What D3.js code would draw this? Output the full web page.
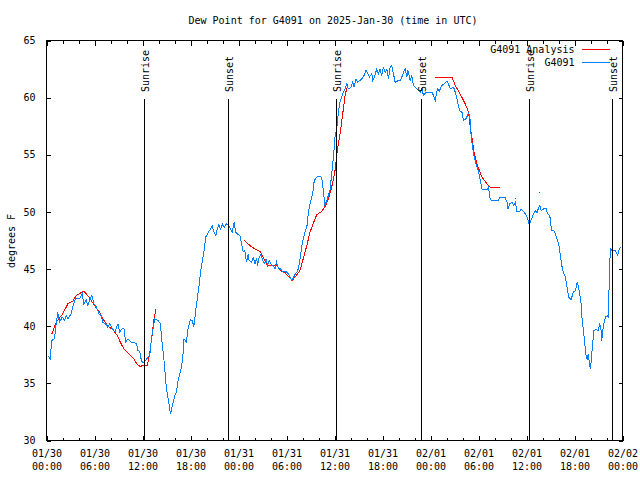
<!DOCTYPE html>
<html>
<head>
<meta charset="utf-8">
<script src="https://cdn.jsdelivr.net/npm/d3@7"></script>
<style>
  html, body { margin: 0; padding: 0; background: #fff; }
  svg { display: block; }
  text { font-family: "DejaVu Sans Mono", "Liberation Mono", monospace; font-size: 10px; fill: #000; }
</style>
</head>
<body>
<svg id="chart" width="640" height="480"></svg>
<script>
// ---------- data (hours since 2025-01-30 00:00 UTC) ----------
const titleText = "Dew Point for G4091 on 2025-Jan-30 (time in UTC)";
const yLabel = "degrees F";
const seriesNames = ["G4091 Analysis", "G4091"];
const seriesColors = ["#ff0000", "#0080ff"];

const blueHours = [0.16,0.46,0.66,1.0,1.21,1.41,1.63,1.97,2.25,2.47,2.67,3.09,3.29,3.63,4.13,4.47,4.67,4.97,5.17,5.38,5.67,5.92,6.22,6.55,6.85,7.05,7.39,7.68,7.89,8.23,8.55,8.93,9.14,9.48,9.68,9.89,10.18,10.61,11.23,11.43,11.65,11.86,12.06,12.4,12.68,12.9,13.11,13.52,13.94,14.24,14.44,14.65,14.78,14.99,15.31,15.49,15.69,16.03,16.24,16.44,16.87,17.07,17.19,17.49,17.69,17.99,18.24,18.41,18.62,18.75,18.82,19.07,19.28,19.5,19.7,19.91,20.2,20.41,20.7,20.95,21.16,21.32,21.54,21.75,22.0,22.2,22.5,22.79,23.0,23.2,23.45,23.67,23.88,24.17,24.38,24.58,24.79,25.0,25.21,25.33,25.63,25.83,26.08,26.26,26.38,26.58,26.8,27.01,27.3,27.42,27.64,27.84,28.14,28.34,28.55,28.76,28.96,29.26,29.59,29.93,30.22,30.43,30.64,30.84,31.05,31.27,31.47,31.59,31.77,31.89,32.09,32.31,32.6,32.72,32.93,33.27,33.47,33.77,34.06,34.4,34.6,34.81,35.1,35.44,35.72,35.94,36.06,36.28,36.48,36.69,36.9,37.1,37.31,37.53,37.73,38.03,38.28,38.44,38.69,38.86,39.19,39.41,39.69,39.94,40.16,40.36,40.66,40.78,40.99,41.28,41.49,41.7,41.91,42.11,42.32,42.54,42.74,42.95,43.16,43.37,43.58,43.99,44.2,44.41,44.62,44.83,45.04,45.17,45.46,45.67,45.87,46.29,46.71,46.92,47.12,47.46,48.17,48.37,48.59,48.87,49.12,49.42,49.71,50.05,50.25,50.38,50.55,50.88,51.09,51.3,51.63,51.93,52.13,52.43,52.63,52.76,52.97,53.09,53.31,53.47,53.68,54.01,54.22,54.43,55.06,55.26,55.39,55.6,56.51,56.64,57.35,57.56,57.69,57.89,58.19,58.39,58.6,58.82,59.1,59.32,59.57,59.85,60.07,60.32,60.48,60.73,60.89,61.11,61.32,61.52,61.65,61.86,62.15,62.45,62.65,62.86,62.99,63.11,63.4,63.61,63.82,64.03,64.15,64.45,64.65,64.86,65.08,65.28,65.58,65.83,66.12,66.33,66.45,66.65,66.83,66.96,67.16,67.28,67.41,67.58,67.71,67.87,68.0,68.16,68.28,68.41,68.71,68.96,69.16,69.29,69.41,69.54,69.66,69.87,70.09,70.21,70.29,70.37,70.5,70.71,71.12,71.41,71.53,71.75];
const blueValues = [37.44,37.15,38.75,38.9,40.2,41.2,40.35,40.8,40.5,40.9,40.65,41.1,41.7,42.4,42.4,42.84,41.96,42.3,41.8,42.25,42.7,41.96,41.7,41.1,40.9,40.35,40.2,39.9,40.2,39.8,39.5,40.2,39.5,39.8,39.8,38.6,38.9,38.6,38.5,37.9,37.8,37.0,36.8,37.0,37.3,37.4,38.9,40.65,40.5,40.2,38.6,37.3,36.3,34.5,33.2,32.3,32.9,33.9,34.2,35.25,36.4,37.6,38.9,38.6,39.8,40.55,40.5,39.9,41.1,41.96,42.25,43.56,44.9,45.75,46.6,47.8,48.2,48.4,48.8,48.2,47.94,48.4,48.9,48.5,48.9,48.65,48.96,48.8,48.5,48.2,49.1,48.2,48.05,47.94,47.2,46.5,46.6,45.6,46.3,45.75,45.6,46.0,45.46,46.0,45.3,46.0,46.3,45.75,45.46,45.9,45.3,45.75,45.3,45.3,45.0,45.6,45.1,45.0,44.7,44.8,44.6,44.3,44.0,44.2,44.5,44.7,45.0,45.46,46.2,46.9,47.65,48.2,48.9,49.84,50.7,51.6,52.75,53.04,53.1,53.04,51.9,50.56,51.15,51.9,53.8,55.4,56.55,57.27,58.73,59.6,60.04,60.48,60.77,61.2,60.77,60.9,61.35,60.9,61.65,61.35,61.5,61.65,61.94,62.4,62.1,61.8,62.1,61.5,61.8,62.5,62.1,62.5,61.94,62.67,62.2,62.5,61.65,62.67,62.8,62.1,61.35,61.5,61.5,61.8,62.2,62.5,61.8,62.4,61.5,61.9,61.06,60.77,60.48,60.77,60.2,60.48,60.48,60.2,59.75,60.77,60.6,61.06,61.2,61.44,61.2,60.92,60.77,60.92,60.48,59.9,58.88,58.73,58.0,58.15,58.44,58.73,58.0,56.55,55.4,54.8,54.2,53.5,52.75,52.0,51.94,52.17,51.3,51.0,51.0,51.23,51.23,50.85,50.27,50.7,50.85,50.6,50.85,50.0,50.0,50.27,50.1,49.84,49.56,48.96,49.1,49.56,49.84,50.1,49.95,50.4,50.56,50.1,50.27,50.27,49.84,49.7,49.4,48.4,48.4,48.1,47.65,47.2,46.6,45.17,44.6,44.3,43.4,42.55,42.3,42.98,43.1,43.86,43.6,42.84,41.96,40.5,39.34,38.46,37.6,37.06,37.6,36.7,36.27,37.6,38.46,39.6,39.75,39.6,40.2,39.9,38.75,39.6,40.2,40.8,40.9,40.8,42.25,45.17,46.77,46.6,46.6,46.2,46.6,46.9];

// null marks a gap in the analysis series
const redHours = [0.66,1.21,2.04,2.67,3.29,3.72,4.67,5.3,6.01,6.64,7.18,7.68,8.3,8.85,9.23,9.68,10.18,10.81,11.31,11.65,12.27,12.61,12.9,13.19,13.44,13.69,14.0,
  24.67,25.42,26.05,26.67,27.09,27.59,28.76,29.39,29.8,30.52,30.72,31.18,31.68,32.09,32.52,32.93,33.35,33.77,34.4,34.85,35.22,35.65,36.06,36.35,36.69,37.03,37.35,37.69,38.0,
  48.59,50.68,51.09,51.72,52.34,52.76,52.97,53.18,53.47,53.88,54.43,55.06,55.56,56.31,56.72,57.0,
  58.6,58.7,61.65,61.8];
const redValues = [39.3,40.35,41.1,41.96,42.2,42.7,43.07,42.55,41.8,41.25,40.5,40.0,39.7,39.2,38.6,38.0,37.65,37.24,36.7,36.5,36.55,36.6,37.6,39.2,40.65,41.5,null,
  47.56,47.06,46.77,46.56,46.04,45.3,45.3,44.8,44.7,44.15,44.0,44.4,44.88,45.9,47.0,48.2,49.0,49.75,50.05,50.5,51.1,52.17,53.6,55.4,56.8,58.6,60.3,61.2,null,
  61.73,61.8,61.06,60.3,59.46,58.73,57.4,56.55,55.1,54.06,53.04,52.46,52.1,52.17,52.17,null,
  51.15,null,51.73,null];

const sunLabels = ["Sunrise","Sunset","Sunrise","Sunset","Sunrise","Sunset"];
const sunHours = [12.18,22.75,36.22,46.79,60.27,70.66];

const yTicks = [30,35,40,45,50,55,60,65];

// ---------- setup ----------
const start = Date.UTC(2025, 0, 30);
const toDate = h => new Date(start + h * 3600e3);
const svg = d3.select("#chart");

const x = d3.scaleUtc()
  .domain([new Date(Date.UTC(2025,0,30)), new Date(Date.UTC(2025,1,2))])
  .range([46.5, 622.5]);
const y = d3.scaleLinear().domain([30, 65]).range([440.5, 40.5]);

// title
svg.append("text").attr("x", 333).attr("y", 23.5).attr("text-anchor", "middle").text(titleText);

// y label
svg.append("text").attr("transform", "translate(15,241) rotate(-90)")
  .attr("text-anchor", "middle").text(yLabel);

// ---------- axes ----------
const majorT = d3.utcHour.every(6).range(x.domain()[0], new Date(+x.domain()[1] + 1));
const minorT = d3.utcHour.every(2).range(x.domain()[0], new Date(+x.domain()[1] + 1));

function styleAxis(g) {
  g.select(".domain").remove();
  g.selectAll("line").attr("stroke", "#000").attr("shape-rendering", "crispEdges");
}
// bottom minor + major (inward)
svg.append("g").attr("transform", "translate(0,440.5)")
  .call(d3.axisBottom(x).tickValues(minorT).tickSizeInner(-3).tickSizeOuter(0).tickFormat(""))
  .call(styleAxis).selectAll("text").remove();
const bottomMajor = svg.append("g").attr("transform", "translate(0,440.5)")
  .call(d3.axisBottom(x).tickValues(majorT).tickSizeInner(-5).tickSizeOuter(0).tickFormat(""))
  .call(styleAxis);
const fmtDay = d3.utcFormat("%m/%d"), fmtTime = d3.utcFormat("%H:%M");
bottomMajor.selectAll(".tick text").remove();
bottomMajor.selectAll(".tick").append("text")
  .attr("text-anchor", "middle").attr("font-family", null).attr("font-size", null)
  .attr("fill", "#000")
  .each(function(d) {
    const t = d3.select(this);
    t.append("tspan").attr("x", 0).attr("y", 16.5).text(fmtDay(d));
    t.append("tspan").attr("x", 0).attr("y", 29.5).text(fmtTime(d));
  });
// top mirrored ticks (inward)
svg.append("g").attr("transform", "translate(0,40.5)")
  .call(d3.axisTop(x).tickValues(minorT).tickSizeInner(-3).tickSizeOuter(0).tickFormat(""))
  .call(styleAxis);
svg.append("g").attr("transform", "translate(0,40.5)")
  .call(d3.axisTop(x).tickValues(majorT).tickSizeInner(-5).tickSizeOuter(0).tickFormat(""))
  .call(styleAxis);
// left
const leftAxis = svg.append("g").attr("transform", "translate(46.5,0)")
  .call(d3.axisLeft(y).tickValues(yTicks).tickSizeInner(-4).tickSizeOuter(0).tickPadding(11).tickFormat(d3.format("d")))
  .call(styleAxis);
leftAxis.selectAll("text").attr("font-family", null).attr("font-size", null).attr("fill", "#000");
// right
svg.append("g").attr("transform", "translate(622.5,0)")
  .call(d3.axisRight(y).tickValues(yTicks).tickSizeInner(-4).tickSizeOuter(0).tickFormat(""))
  .call(styleAxis);

// ---------- data lines ----------
const redData = redHours.map((h, i) => ({ t: toDate(h), v: redValues[i] }));
const blueData = blueHours.map((h, i) => ({ t: toDate(h), v: blueValues[i] }));

const line = d3.line().defined(d => d.v != null).x(d => x(d.t)).y(d => y(d.v));

svg.append("path").datum(redData).attr("d", line)
  .attr("fill", "none").attr("stroke", seriesColors[0]).attr("stroke-width", 1)
  .attr("shape-rendering", "crispEdges");
// isolated analysis points
const isolated = redData.filter((d, i) => d.v != null &&
  (i === 0 || redData[i-1].v == null) && (i === redData.length-1 || redData[i+1].v == null));
svg.selectAll(".dot").data(isolated).enter().append("rect")
  .attr("x", d => Math.floor(x(d.t))).attr("y", d => Math.floor(y(d.v)))
  .attr("width", 1).attr("height", 1).attr("fill", seriesColors[0]);

svg.append("path").datum(blueData).attr("d", line)
  .attr("fill", "none").attr("stroke", seriesColors[1]).attr("stroke-width", 1)
  .attr("shape-rendering", "crispEdges");

// ---------- sunrise / sunset ----------
const sun = sunHours.map((h, i) => ({ t: toDate(h), label: sunLabels[i] }));
svg.selectAll(".sunline").data(sun).enter().append("line")
  .attr("x1", d => Math.round(x(d.t)) + 0.5).attr("x2", d => Math.round(x(d.t)) + 0.5)
  .attr("y1", 99).attr("y2", 440.5)
  .attr("stroke", "#000").attr("shape-rendering", "crispEdges");
svg.selectAll(".sunlabel").data(sun).enter().append("text")
  .attr("transform", d => `translate(${Math.round(x(d.t)) + 4.5},92) rotate(-90)`)
  .attr("text-anchor", "start").text(d => d.label);

// ---------- border ----------
svg.append("rect").attr("x", 46.5).attr("y", 40.5).attr("width", 576).attr("height", 400)
  .attr("fill", "none").attr("stroke", "#000").attr("shape-rendering", "crispEdges");

// ---------- legend ----------
seriesNames.forEach((name, i) => {
  const ly = 49.5 + i * 13;
  svg.append("text").attr("x", 574.5).attr("y", ly + 3.5).attr("text-anchor", "end").text(name);
  svg.append("line").attr("x1", 582).attr("x2", 610).attr("y1", ly).attr("y2", ly)
    .attr("stroke", seriesColors[i]).attr("shape-rendering", "crispEdges");
});
</script>
</body>
</html>
